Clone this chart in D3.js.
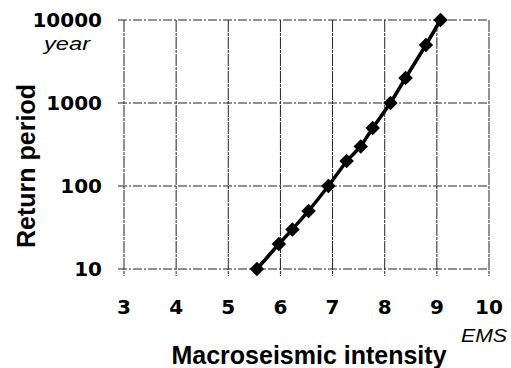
<!DOCTYPE html>
<html><head><meta charset="utf-8">
<script src="https://cdn.jsdelivr.net/npm/d3@7"></script>
<style>html,body{margin:0;padding:0;background:#fff;}svg{display:block;}</style>
</head><body>
<svg id="chart" width="511" height="368"></svg>
<script>
const intensity = [5.55, 5.97, 6.23, 6.54, 6.92, 7.27, 7.54, 7.77, 8.11, 8.4, 8.79, 9.07];
const returnPeriod = [10, 20, 30, 50, 100, 200, 300, 500, 1000, 2000, 5000, 10000];
const xTicks = [3, 4, 5, 6, 7, 8, 9, 10];
const yTicks = [10, 100, 1000, 10000];
const xLabel = "Macroseismic intensity";
const xUnit = "EMS";
const yLabel = "Return period";
const yUnit = "year";

const svg = d3.select("#chart");
const x = d3.scaleLinear().domain([3, 10]).range([124, 489]);
const y = d3.scaleLog().domain([10, 10000]).range([269, 20]);
const font = "Liberation Sans, Arial, sans-serif";
const tickFont = "DejaVu Sans, Liberation Sans, sans-serif";

// grid lines
const g = svg.append("g");
g.selectAll(".vg").data(xTicks).join("line")
  .attr("x1", d => x(d)).attr("x2", d => x(d))
  .attr("y1", y(10000)).attr("y2", y(10) + 7)
  .attr("stroke", "#222").attr("stroke-width", 1)
  .attr("stroke-dasharray", "12,1,3,1");
g.selectAll(".hg").data(yTicks).join("line")
  .attr("x1", x(3) - 6).attr("x2", x(10))
  .attr("y1", d => y(d)).attr("y2", d => y(d))
  .attr("stroke", "#222").attr("stroke-width", 1)
  .attr("stroke-dasharray", "9,2,2,2");

// tick labels
svg.selectAll(".xt").data(xTicks).join("text")
  .attr("x", d => x(d)).attr("y", 314)
  .attr("text-anchor", "middle")
  .attr("font-family", tickFont).attr("font-weight", "bold").attr("font-size", 20)
  .text(d => d);
svg.selectAll(".yt").data(yTicks).join("text")
  .attr("x", 102).attr("y", d => y(d)).attr("dy", "0.36em")
  .attr("text-anchor", "end")
  .attr("font-family", tickFont).attr("font-weight", "bold").attr("font-size", 20)
  .text(d => d);

svg.append("text").attr("x", 90).attr("y", 50).attr("text-anchor", "end")
  .attr("font-family", font).attr("font-style", "italic").attr("font-size", 18)
  .attr("textLength", 46).attr("lengthAdjust", "spacingAndGlyphs")
  .text(yUnit);
svg.append("text").attr("x", 461).attr("y", 342)
  .attr("font-family", font).attr("font-style", "italic").attr("font-size", 18)
  .attr("textLength", 46).attr("lengthAdjust", "spacingAndGlyphs")
  .text(xUnit);
svg.append("text").attr("x", 309).attr("y", 364).attr("text-anchor", "middle")
  .attr("font-family", font).attr("font-weight", "bold").attr("font-size", 25)
  .text(xLabel);
svg.append("text").attr("transform", "translate(35,166) rotate(-90)")
  .attr("text-anchor", "middle")
  .attr("font-family", font).attr("font-weight", "bold").attr("font-size", 25)
  .text(yLabel);

// data
const pts = intensity.map((v, i) => [v, returnPeriod[i]]);
svg.append("path").datum(pts)
  .attr("d", d3.line().x(d => x(d[0])).y(d => y(d[1])))
  .attr("fill", "none").attr("stroke", "#000").attr("stroke-width", 3.5);
svg.selectAll(".mk").data(pts).join("path")
  .attr("d", d3.symbol(d3.symbolSquare, 105)())
  .attr("transform", d => `translate(${x(d[0])},${y(d[1])}) rotate(45)`)
  .attr("fill", "#000");
</script>
</body></html>
